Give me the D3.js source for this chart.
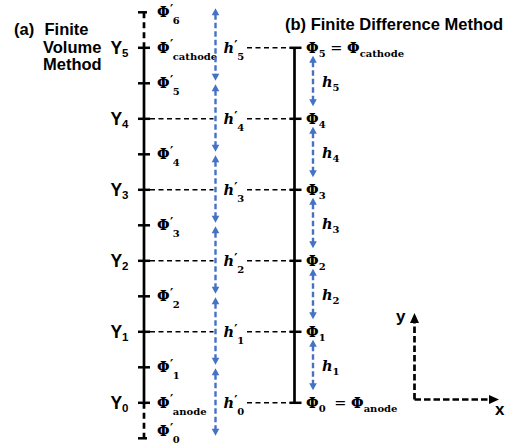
<!DOCTYPE html>
<html><head><meta charset="utf-8">
<script src="https://cdn.jsdelivr.net/npm/d3@7"></script>
<style>body{margin:0;background:#fff}svg{display:block}</style>
</head><body><svg id="c" width="517" height="448"></svg>
<script>
// ---- data ----
const levels = [0, 1, 2, 3, 4, 5];                 // grid levels Y_i
const levelSubs = ["0", "1", "2", "3", "4", "5"];
const fvNodes = [-0.5, 0, 0.5, 1.5, 2.5, 3.5, 4.5, 5, 5.5];   // finite-volume Φ' positions (level units)
const fvSubs = ["0", "anode", "1", "2", "3", "4", "5", "cathode", "6"];
const fvCells = [-0.5, 0.5, 1.5, 2.5, 3.5, 4.5, 5.5];          // cell centres joined by h' arrows
const fvSpacingSubs = ["0", "1", "2", "3", "4", "5"];          // h'_i at level i
const fdSubs = ["0", "1", "2", "3", "4", "5"];                 // Φ_i at level i
const fdSpacing = [1, 2, 3, 4, 5];                             // h_i between level i-1 and i
const titleA = ["(a)", "Finite", "Volume", "Method"];
const titleB = "(b) Finite Difference Method";

// ---- layout ----
const svg = d3.select("#c");
const y = d3.scaleLinear().domain([0, 5]).range([402.8, 47.8]);
const xL = 144, xR = 294.5, xBL = 215.5, xBR = 313;
const blue = "#4472C4";
const serif = "'DejaVu Serif', serif";
const sans = "'Liberation Sans', Arial, sans-serif";

// titles
const ta = svg.append("g").attr("font-family", sans).attr("font-weight", "bold").attr("font-size", 16.5).attr("fill", "#000");
ta.append("text").attr("x", 14).attr("y", 35).text(titleA[0]);
ta.append("text").attr("x", 44.5).attr("y", 35).text(titleA[1]);
ta.append("text").attr("x", 43).attr("y", 52.5).text(titleA[2]);
ta.append("text").attr("x", 43).attr("y", 70).text(titleA[3]);
ta.append("text").attr("x", 285).attr("y", 29.5).text(titleB);

// ---- left (finite volume) axis ----
svg.append("line").attr("x1", xL).attr("x2", xL).attr("y1", y(5)).attr("y2", y(0))
  .attr("stroke", "#000").attr("stroke-width", 2.7);
[[5, 5.5], [-0.5, 0]].forEach(([a, b]) => {
  svg.append("line").attr("x1", xL).attr("x2", xL).attr("y1", y(b)).attr("y2", y(a))
    .attr("stroke", "#000").attr("stroke-width", 2.7).attr("stroke-dasharray", "6,4");
});
// ticks at levels and nodes
const tickPos = Array.from(new Set(levels.concat(fvNodes)));
svg.selectAll(".tl").data(tickPos).join("line")
  .attr("x1", xL - 6)
  .attr("x2", d => (d === 5.5 || d === -0.5) ? xL + 3 : xL + 6)
  .attr("y1", d => y(d)).attr("y2", d => y(d))
  .attr("stroke", "#000").attr("stroke-width", 2.5);

// Y labels
const yl = svg.selectAll(".yl").data(levels).join("text")
  .attr("x", 128.5).attr("y", d => y(d) + 6.5).attr("text-anchor", "end")
  .attr("font-family", sans).attr("font-weight", "bold").attr("font-size", 17.5);
yl.append("tspan").text("Y");
yl.append("tspan").attr("font-size", 11.5).attr("dy", 3).text((d, i) => levelSubs[i]);

// Φ' labels
const fl = svg.selectAll(".fl").data(fvNodes).join("text")
  .attr("x", 157).attr("y", d => Math.min(y(d) + 5, 436))
  .attr("font-family", serif).attr("font-weight", "bold").attr("font-size", 14.5);
fl.append("tspan").text("Φ");
fl.append("tspan").attr("font-size", 12.5).attr("dy", -3.5).attr("dx", 0.3).text("′");
fl.append("tspan").attr("font-size", 10).attr("dy", 10.5).attr("dx", -0.5).text((d, i) => fvSubs[i]);

// horizontal dashed connectors
svg.selectAll(".hl1").data(levels.filter(d => d > 0 && d < 5)).join("line")
  .attr("x1", xL + 6).attr("x2", xBL - 2).attr("y1", d => y(d)).attr("y2", d => y(d))
  .attr("stroke", "#000").attr("stroke-width", 1.5).attr("stroke-dasharray", "5,3.5");
svg.selectAll(".hl2").data(levels).join("line")
  .attr("x1", 247).attr("x2", xR - 4).attr("y1", d => y(d)).attr("y2", d => y(d))
  .attr("stroke", "#000").attr("stroke-width", 1.5).attr("stroke-dasharray", "5,3.5");

// arrow helper
function dArrow(x, y1, y2, color) {
  const hl = 7, hw = 3.8;
  svg.append("line").attr("x1", x).attr("x2", x).attr("y1", y1 + hl - 1).attr("y2", y2 - hl + 1)
    .attr("stroke", color).attr("stroke-width", 2.4).attr("stroke-dasharray", "5.5,3");
  svg.append("path").attr("d", `M${x},${y1}L${x - hw},${y1 + hl}L${x + hw},${y1 + hl}Z`).attr("fill", color);
  svg.append("path").attr("d", `M${x},${y2}L${x - hw},${y2 - hl}L${x + hw},${y2 - hl}Z`).attr("fill", color);
}
// h' arrows between cell centres
d3.pairs(fvCells.slice().reverse()).forEach(([a, b]) => {
  dArrow(xBL, y(a) + (a === 5.5 ? -4 : 1), y(b) - 2.5, blue);
});
// h' labels
const hpl = svg.selectAll(".hp").data(levels).join("text")
  .attr("x", 223.5).attr("y", d => y(d) + 5.5)
  .attr("font-family", serif).attr("font-weight", "bold").attr("font-style", "italic").attr("font-size", 14.5);
hpl.append("tspan").text("h");
hpl.append("tspan").attr("font-size", 12.5).attr("font-style", "normal").attr("dy", -3.5).attr("dx", 0.3).text("′");
hpl.append("tspan").attr("font-size", 10).attr("font-style", "normal").attr("dy", 10.5).attr("dx", -0.5).text((d, i) => fvSpacingSubs[i]);

// ---- right (finite difference) axis ----
svg.append("line").attr("x1", xR).attr("x2", xR).attr("y1", y(5)).attr("y2", y(0))
  .attr("stroke", "#000").attr("stroke-width", 2.7);
svg.selectAll(".tr").data(levels).join("line")
  .attr("x1", xR - 5).attr("x2", xR + 7).attr("y1", d => y(d)).attr("y2", d => y(d))
  .attr("stroke", "#000").attr("stroke-width", 2.5);

const rl = svg.selectAll(".rl").data(levels).join("text")
  .attr("x", 306).attr("y", d => y(d) + 5.5)
  .attr("font-family", serif).attr("font-weight", "bold").attr("font-size", 14.5);
rl.append("tspan").text("Φ");
rl.append("tspan").attr("font-size", 10).attr("dy", 4).text((d, i) => fdSubs[i]);
rl.filter(d => d === 5).append("tspan").attr("dy", -4).attr("font-weight", "normal").text(" = ");
rl.filter(d => d === 5).append("tspan").text("Φ");
rl.filter(d => d === 5).append("tspan").attr("font-size", 10).attr("dy", 4).text("cathode");
rl.filter(d => d === 0).append("tspan").attr("dy", -4).attr("font-weight", "normal").attr("dx", 4).text(" = ");
rl.filter(d => d === 0).append("tspan").text("Φ");
rl.filter(d => d === 0).append("tspan").attr("font-size", 10).attr("dy", 4).text("anode");

fdSpacing.forEach(i => {
  dArrow(xBR, y(i) + 8, y(i - 1) - 12.5, blue);
});
const hl = svg.selectAll(".hr").data(fdSpacing).join("text")
  .attr("x", 322).attr("y", d => (y(d) + y(d - 1)) / 2 + 4)
  .attr("font-family", serif).attr("font-weight", "bold").attr("font-style", "italic").attr("font-size", 14.5);
hl.append("tspan").text("h");
hl.append("tspan").attr("font-size", 10).attr("font-style", "normal").attr("dy", 4).text(d => d);

// ---- x/y direction indicator ----
const ox = 414.5, oy = 399.5;
svg.append("path").attr("d", `M${ox},${oy}V${322}M${ox},${oy}H${490}`)
  .attr("fill", "none").attr("stroke", "#000").attr("stroke-width", 2.7).attr("stroke-dasharray", "6.5,3");
svg.append("path").attr("d", `M${ox},313L${ox - 4.5},323L${ox + 4.5},323Z`).attr("fill", "#000");
svg.append("path").attr("d", `M499,${oy}L489,${oy - 4.5}L489,${oy + 4.5}Z`).attr("fill", "#000");
svg.append("text").attr("x", 396).attr("y", 322).attr("font-family", sans).attr("font-weight", "bold").attr("font-size", 17).text("y");
svg.append("text").attr("x", 495).attr("y", 415).attr("font-family", sans).attr("font-weight", "bold").attr("font-size", 17).text("x");
</script></body></html>
